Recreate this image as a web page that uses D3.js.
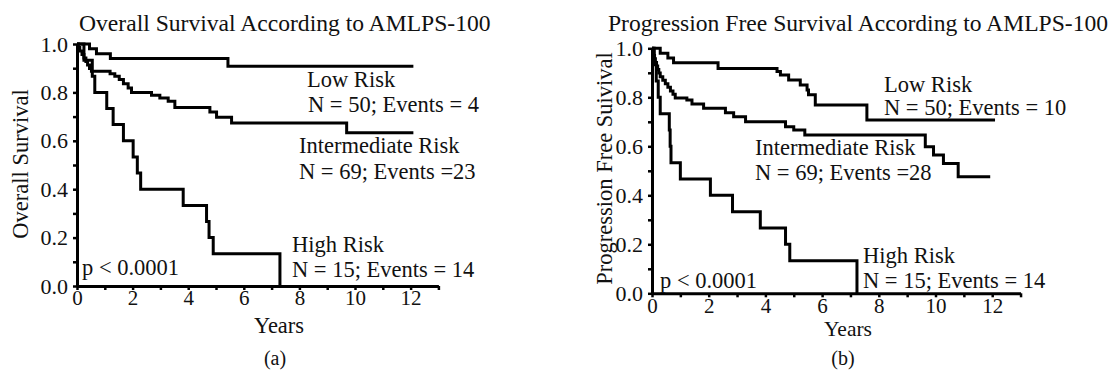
<!DOCTYPE html>
<html><head><meta charset="utf-8">
<script src="https://cdn.jsdelivr.net/npm/d3@7"></script>
<style>
html,body{margin:0;padding:0;background:#fff;}
svg text{font-family:"Liberation Serif","Times New Roman",serif;fill:#111;}
</style></head>
<body>
<svg id="chart" width="1114" height="372"></svg>
<script>
// ---------- DATA ----------
const xTicks = [0,1,2,3,4,5,6,7,8,9,10,11,12,13];
const xTickLabels = ["0","","2","","4","","6","","8","","10","","12",""];
const yTicks = [0,0.1,0.2,0.3,0.4,0.5,0.6,0.7,0.8,0.9,1.0];
const yTickLabels = ["0.0","","0.2","","0.4","","0.6","","0.8","","1.0"];

// Panel (a) Overall survival
const osLowT = [0,0.45,0.7,1.2,5.43,12.1];
const osLowS = [1.0,0.98,0.96,0.94,0.908,0.908];
const osIntT = [0,0.05,0.1,0.18,0.25,0.32,0.38,0.45,0.52,1.19,1.36,1.52,1.67,1.84,1.96,2.68,2.98,3.28,3.52,4.78,5.02,5.56,9.7,12.1];
const osIntS = [1.0,0.986,0.971,0.957,0.942,0.928,0.913,0.899,0.887,0.877,0.867,0.853,0.836,0.818,0.80,0.788,0.777,0.763,0.738,0.719,0.697,0.674,0.633,0.633];
const osHighT = [0,0.25,0.55,0.64,1.07,1.3,1.67,2.02,2.17,2.29,3.82,4.66,4.75,4.9,7.3];
const osHighS = [1.0,0.933,0.867,0.80,0.733,0.667,0.60,0.533,0.467,0.40,0.333,0.267,0.20,0.133,0.0];

// Panel (b) Progression free survival
const pfsLowT = [0,0.29,0.56,0.76,2.33,4.41,4.53,4.82,5.23,5.47,5.52,5.76,7.58,12.1];
const pfsLowS = [1.0,0.98,0.96,0.941,0.918,0.905,0.891,0.871,0.85,0.83,0.81,0.769,0.707,0.707];
const pfsIntT = [0,0.03,0.06,0.09,0.12,0.16,0.2,0.24,0.29,0.38,0.47,0.56,0.65,0.74,0.82,1.23,1.41,1.82,2.59,2.88,3.3,4.71,5.0,5.39,9.64,9.93,10.28,10.8,11.93];
const pfsIntS = [1.0,0.986,0.971,0.957,0.942,0.928,0.913,0.899,0.884,0.870,0.855,0.841,0.826,0.812,0.797,0.789,0.773,0.755,0.737,0.721,0.70,0.68,0.667,0.646,0.598,0.564,0.53,0.476,0.476];
const pfsHighT = [0,0.08,0.15,0.22,0.29,0.61,0.64,0.67,1.0,2.06,2.84,3.82,4.71,4.86,7.23];
const pfsHighS = [1.0,0.933,0.867,0.80,0.733,0.667,0.60,0.533,0.467,0.40,0.333,0.267,0.20,0.133,0.0];

// ---------- DRAW ----------
const svg = d3.select("#chart");
const FS = 22.5;

function panel(cfg){
  const x = d3.scaleLinear().domain([0,13]).range(cfg.xr);
  const y = d3.scaleLinear().domain([0,1]).range(cfg.yr);
  const g = svg.append("g");

  // curves
  const line = d3.line().x(d=>x(d[0])).y(d=>y(d[1])).curve(d3.curveStepAfter);
  cfg.series.forEach(s=>{
    const pts = s.t.map((t,i)=>[t,s.s[i]]);
    g.append("path").attr("d",line(pts)).attr("fill","none")
      .attr("stroke","#000").attr("stroke-width",3).attr("stroke-linejoin","miter");
  });

  // axes
  const yAxis = d3.axisLeft(y).tickValues(yTicks).tickSize(4).tickSizeOuter(0).tickPadding(5)
    .tickFormat((d,i)=>yTickLabels[i]);
  const ya = g.append("g").attr("transform",`translate(${cfg.xr[0]},0)`).call(yAxis);
  const xAxis = d3.axisBottom(x).tickValues(xTicks).tickSize(4).tickSizeOuter(0).tickPadding(cfg.xpad)
    .tickFormat((d,i)=>xTickLabels[i]);
  const xa = g.append("g").attr("transform",`translate(0,${cfg.yr[0]})`).call(xAxis);
  [ya,xa].forEach(a=>{
    a.select(".domain").attr("stroke","#000").attr("stroke-width",3);
    a.selectAll(".tick line").attr("stroke","#000").attr("stroke-width",2.5);
    a.selectAll(".tick text").style("font-size","22px")
      .style("font-family","'Liberation Serif','Times New Roman',serif").attr("fill","#111");
  });
  xa.selectAll(".tick text").style("font-size","21px");

  // title
  g.append("text").attr("x",cfg.title[1]).attr("y",31).style("font-size","23.6px").text(cfg.title[0]);
  // y label
  g.append("text").attr("transform",`translate(${cfg.ylab[1]},${cfg.ylab[2]}) rotate(-90)`)
    .attr("text-anchor","middle").style("font-size",FS+"px").text(cfg.ylab[0]);
  // x label
  g.append("text").attr("x",cfg.xlab[0]).attr("y",cfg.xlab[1]).attr("text-anchor","middle")
    .style("font-size",cfg.xlab[2]+"px").text("Years");
  // caption
  g.append("text").attr("x",cfg.cap[1]).attr("y",365).attr("text-anchor","middle")
    .style("font-size","20px").text(cfg.cap[0]);
  // annotations
  cfg.notes.forEach(n=>{
    g.append("text").attr("x",n[1]).attr("y",n[2]).style("font-size",FS+"px").text(n[0]);
  });
}

panel({
  xr:[77,77+13*27.8], yr:[286,44], xpad:0,
  series:[{t:osLowT,s:osLowS},{t:osIntT,s:osIntS},{t:osHighT,s:osHighS}],
  title:["Overall Survival According to AMLPS-100",79],
  ylab:["Overall Survival",28,164],
  xlab:[279,333,22.5], cap:["(a)",275],
  notes:[["Low Risk",307,86.5],["N = 50; Events = 4",308,111.5],
         ["Intermediate Risk",299,153],["N = 69; Events =23",299,179],
         ["High Risk",292,251.5],["N = 15; Events = 14",292,276.5],
         ["p < 0.0001",82,275]]
});

panel({
  xr:[652,652+13*28.35], yr:[293.3,48.3], xpad:1,
  series:[{t:pfsLowT,s:pfsLowS},{t:pfsIntT,s:pfsIntS},{t:pfsHighT,s:pfsHighS}],
  title:["Progression Free Survival According to AMLPS-100",608],
  ylab:["Progression Free Suivival",612,168.5],
  xlab:[848,336,21.5], cap:["(b)",843],
  notes:[["Low Risk",884,91.5],["N = 50; Events = 10",884,115],
         ["Intermediate Risk",755,155],["N = 69; Events =28",755,180],
         ["High Risk",863,263],["N = 15; Events = 14",863,287.5],
         ["p < 0.0001",660,288]]
});
</script>
</body></html>
